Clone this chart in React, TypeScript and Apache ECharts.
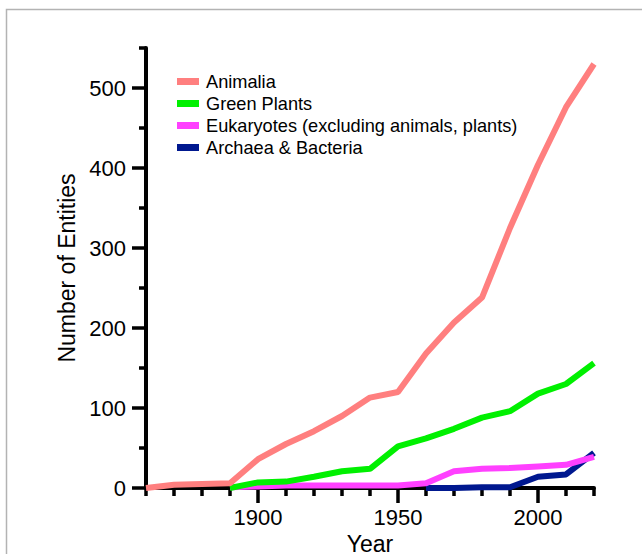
import React, { useEffect, useRef } from "react";
import * as echarts from "echarts";

// Decade sampling points
const years = [1860, 1870, 1880, 1890, 1900, 1910, 1920, 1930, 1940, 1950, 1960, 1970, 1980, 1990, 2000, 2010, 2020];

// Cumulative number of entities per group (null = not yet recorded)
const animalia = [0, 4, 5, 6, 36, 55, 71, 90, 113, 120, 168, 207, 238, 325, 404, 476, 530];
const greenPlants = [null, null, null, 0, 7, 8, 14, 21, 24, 52, 62, 74, 88, 96, 118, 130, 156];
const eukaryotes = [null, null, null, 1, 2, 3, 3, 3, 3, 3, 6, 21, 24, 25, 27, 29, 39];
const archaea = [null, null, null, null, null, null, null, null, null, null, 0, 0, 1, 1, 14, 17, 44];

const seriesNames = [
  "Animalia",
  "Green Plants",
  "Eukaryotes (excluding animals, plants)",
  "Archaea & Bacteria",
];
const seriesColors = ["#FF7F7F", "#00F000", "#FF40FF", "#00188F"];

// Axis ticks
const xMajorTicks = [1900, 1950, 2000];
const xMinorTicks = [1860, 1870, 1880, 1890, 1910, 1920, 1930, 1940, 1960, 1970, 1980, 1990, 2010, 2020];
const yMajorTicks = [0, 100, 200, 300, 400, 500];
const yMinorTicks = [50, 150, 250, 350, 450, 550];

const FONT = "'Liberation Sans', Arial, Helvetica, sans-serif";

const toPairs = (vals: (number | null)[]) =>
  years.map((y, i) => [y, vals[i]]).filter((p) => p[1] !== null);

export default function App() {
  const ref = useRef<HTMLDivElement>(null);

  useEffect(() => {
    if (!ref.current) return;
    const chart = echarts.init(ref.current, undefined, { renderer: "svg" });

    const allData = [animalia, greenPlants, eukaryotes, archaea];
    // Draw later groups first so Animalia sits on top
    const order = [3, 2, 1, 0];
    const series = order.map((idx) => ({
      name: seriesNames[idx],
      type: "line",
      data: toPairs(allData[idx]),
      showSymbol: false,
      symbol: "none",
      color: seriesColors[idx],
      lineStyle: { width: 6, color: seriesColors[idx] },
      xAxisIndex: 0,
      yAxisIndex: 0,
    }));

    const axisCommon = {
      splitLine: { show: false },
    };

    chart.setOption({
      animation: false,
      backgroundColor: "#ffffff",
      textStyle: { fontFamily: FONT },
      graphic: [
        {
          type: "rect",
          x: 6.5,
          y: 9.5,
          shape: { x: 0, y: 0, width: 700, height: 600 },
          style: { fill: "none", stroke: "#b3b3b3", lineWidth: 1.5 },
          silent: true,
          z: -10,
        },
      ],
      grid: {
        left: 146,
        right: 48,
        top: 48,
        bottom: 66,
        containLabel: false,
        outerBoundsMode: "none",
      },
      legend: {
        data: seriesNames,
        orient: "vertical",
        left: 177,
        top: 70.5,
        padding: 0,
        icon: "rect",
        itemWidth: 22,
        itemHeight: 7,
        itemGap: 0,
        textStyle: {
          fontSize: 18.2,
          lineHeight: 22,
          color: "#000",
          fontFamily: FONT,
          padding: [0, 0, 0, 2],
        },
      },
      xAxis: [
        {
          ...axisCommon,
          type: "value",
          min: 1860,
          max: 2020,
          name: "Year",
          nameLocation: "middle",
          nameGap: 44,
          nameTextStyle: { fontSize: 23, lineHeight: 20, color: "#000", fontFamily: FONT },
          axisLine: { show: true, lineStyle: { color: "#000", width: 4 } },
          axisTick: { show: true, customValues: xMajorTicks, length: 15, lineStyle: { color: "#000", width: 3.5 } },
          axisLabel: {
            customValues: xMajorTicks,
            formatter: (v: number) => String(v),
            fontSize: 22,
            color: "#000",
            margin: 18,
            fontFamily: FONT,
          },
        },
        {
          ...axisCommon,
          type: "value",
          min: 1860,
          max: 2020,
          position: "bottom",
          axisLine: { show: false },
          axisTick: { show: true, customValues: xMinorTicks, length: 8, lineStyle: { color: "#000", width: 3.5 } },
          axisLabel: { show: false },
        },
      ],
      yAxis: [
        {
          ...axisCommon,
          type: "value",
          min: 0,
          max: 550,
          name: "Number of Entities",
          nameLocation: "middle",
          nameGap: 66,
          nameTextStyle: { fontSize: 23, color: "#000", fontFamily: FONT },
          axisLine: { show: true, lineStyle: { color: "#000", width: 4 } },
          axisTick: { show: true, customValues: yMajorTicks, length: 14, lineStyle: { color: "#000", width: 3.5 } },
          axisLabel: { customValues: yMajorTicks, fontSize: 22, color: "#000", margin: 20, fontFamily: FONT },
        },
        {
          ...axisCommon,
          type: "value",
          min: 0,
          max: 550,
          position: "left",
          axisLine: { show: false },
          axisTick: { show: true, customValues: yMinorTicks, length: 7, lineStyle: { color: "#000", width: 3.5 } },
          axisLabel: { show: false },
        },
      ],
      series,
    });

    return () => chart.dispose();
  }, []);

  return (
    <div
      ref={ref}
      style={{ position: "fixed", left: 0, top: 0, width: 642, height: 554 }}
    />
  );
}
